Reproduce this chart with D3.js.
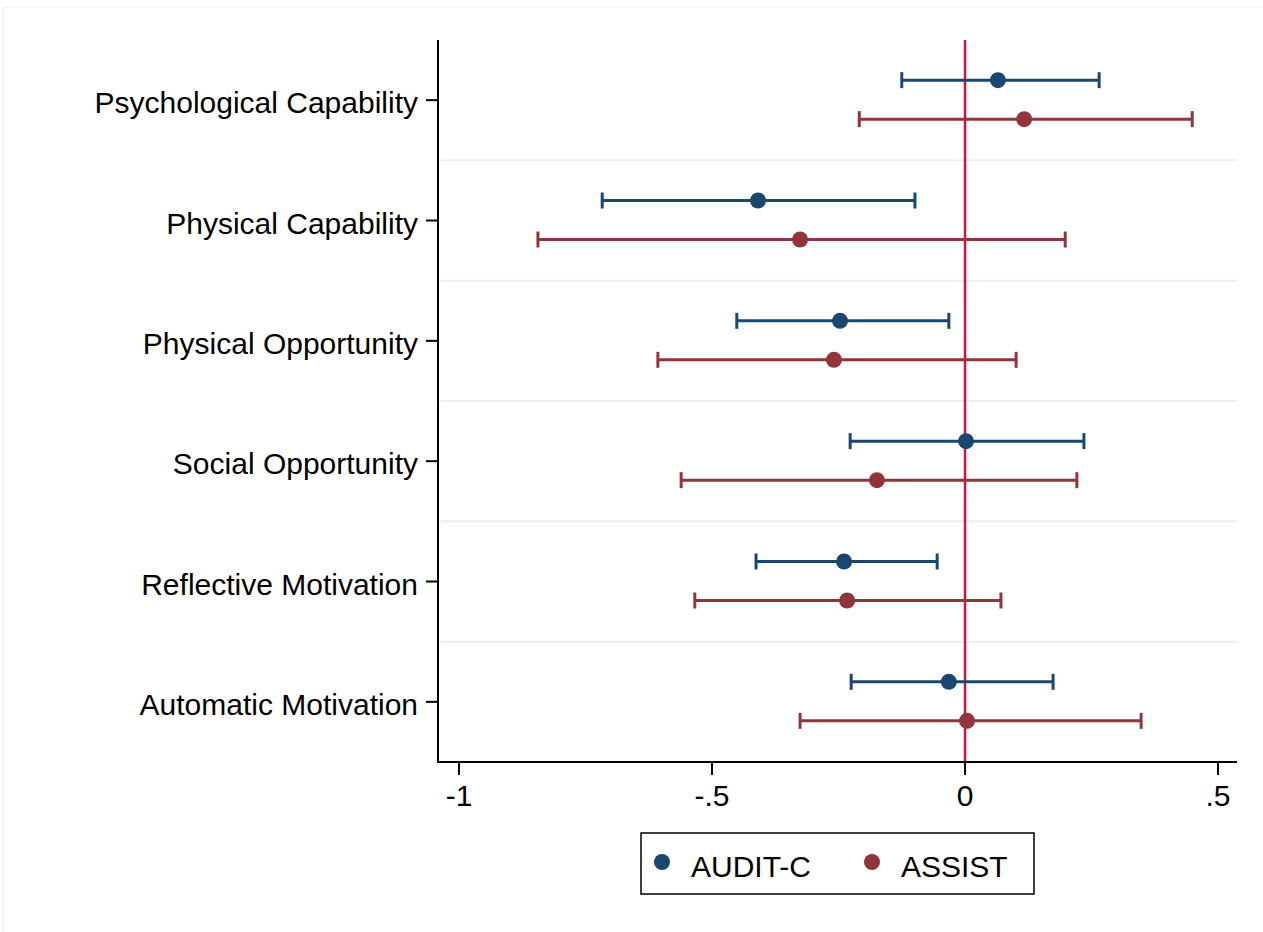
<!DOCTYPE html>
<head>
  <meta charset="utf-8">
  <script src="https://d3js.org/d3.v7.min.js"></script>
  <style>
    body {
      margin: 0;
      background: #fff;
      font-family: "Liberation Sans", Arial, sans-serif;
    }
    .ylab, .xlab, .legend text {
      fill: #000;
      font-size: 30px;
    }
    .sep {
      stroke: #e9eef0;
      stroke-width: 2;
    }
  </style>
</head>

<body>
  <div id="chart"></div>

  <script>
    var categories = ["Psychological Capability", "Physical Capability", "Physical Opportunity",
                      "Social Opportunity", "Reflective Motivation", "Automatic Motivation"];
    var seriesNames = ["AUDIT-C", "ASSIST"];
    var seriesColors = ["#1a476f", "#90353b"];

    // point estimates and confidence limits
    var auditEst = [0.065, -0.409, -0.247, 0.002, -0.239, -0.032];
    var auditLo  = [-0.125, -0.717, -0.451, -0.227, -0.413, -0.225];
    var auditHi  = [0.265, -0.099, -0.032, 0.235, -0.055, 0.174];

    var assistEst = [0.117, -0.326, -0.259, -0.174, -0.233, 0.004];
    var assistLo  = [-0.209, -0.844, -0.607, -0.561, -0.534, -0.326];
    var assistHi  = [0.449, 0.198, 0.101, 0.221, 0.071, 0.348];

    var xTicks = [-1, -0.5, 0, 0.5];
    var xTickLabels = ["-1", "-.5", "0", ".5"];

    var width = 1263, height = 932;
    var plotLeft = 438, plotRight = 1237, plotTop = 40, plotBottom = 762;

    var svg = d3.select("#chart").append("svg")
      .attr("width", width)
      .attr("height", height);

    // faint frame of the exported picture
    svg.append("rect")
      .attr("x", 3.5).attr("y", 7.5)
      .attr("width", width).attr("height", height)
      .attr("fill", "none")
      .attr("stroke", "#efefef");

    var x = d3.scaleLinear()
      .domain([-1.0415, 0.5375])
      .range([plotLeft, plotRight]);
    var y = d3.scaleBand()
      .domain(categories)
      .range([plotTop, plotBottom]);

    // separators between groups
    svg.selectAll("line.sep")
        .data(categories.slice(1))
      .enter().append("line")
        .attr("class", "sep")
        .attr("x1", plotLeft + 3).attr("x2", plotRight)
        .attr("y1", function(d) { return y(d); })
        .attr("y2", function(d) { return y(d); });

    // reference line at zero
    svg.append("line")
      .attr("x1", x(0)).attr("x2", x(0))
      .attr("y1", plotTop).attr("y2", plotBottom)
      .attr("stroke", "#c8173f")
      .attr("stroke-width", 2.5);

    var series = [
      {name: seriesNames[0], color: seriesColors[0], est: auditEst, lo: auditLo, hi: auditHi, off: -20},
      {name: seriesNames[1], color: seriesColors[1], est: assistEst, lo: assistLo, hi: assistHi, off: 19}
    ];

    series.forEach(function(s) {
      var rows = categories.map(function(c, i) {
        return {cat: c, est: s.est[i], lo: s.lo[i], hi: s.hi[i], cy: y(c) + y.bandwidth() / 2 + s.off};
      });
      var g = svg.append("g");
      g.selectAll("line.ci")
          .data(rows)
        .enter().append("line")
          .attr("x1", function(d) { return x(d.lo); })
          .attr("x2", function(d) { return x(d.hi); })
          .attr("y1", function(d) { return d.cy; })
          .attr("y2", function(d) { return d.cy; })
          .attr("stroke", s.color)
          .attr("stroke-width", 3);
      ["lo", "hi"].forEach(function(k) {
        g.selectAll("line.cap-" + k)
            .data(rows)
          .enter().append("line")
            .attr("x1", function(d) { return x(d[k]); })
            .attr("x2", function(d) { return x(d[k]); })
            .attr("y1", function(d) { return d.cy - 8; })
            .attr("y2", function(d) { return d.cy + 8; })
            .attr("stroke", s.color)
            .attr("stroke-width", 3);
      });
      g.selectAll("circle")
          .data(rows)
        .enter().append("circle")
          .attr("cx", function(d) { return x(d.est); })
          .attr("cy", function(d) { return d.cy; })
          .attr("r", 8)
          .attr("fill", s.color);
    });

    // y axis
    svg.append("line")
      .attr("x1", plotLeft).attr("x2", plotLeft)
      .attr("y1", plotTop).attr("y2", plotBottom + 1)
      .attr("stroke", "#000").attr("stroke-width", 2);
    svg.selectAll("line.ytick")
        .data(categories)
      .enter().append("line")
        .attr("x1", plotLeft - 12).attr("x2", plotLeft)
        .attr("y1", function(d) { return y(d) + y.bandwidth() / 2; })
        .attr("y2", function(d) { return y(d) + y.bandwidth() / 2; })
        .attr("stroke", "#000").attr("stroke-width", 2);
    svg.selectAll("text.ylab")
        .data(categories)
      .enter().append("text")
        .attr("class", "ylab")
        .attr("x", plotLeft - 20)
        .attr("y", function(d) { return y(d) + y.bandwidth() / 2 + 13; })
        .attr("text-anchor", "end")
        .text(function(d) { return d; });

    // x axis
    svg.append("line")
      .attr("x1", plotLeft - 1).attr("x2", plotRight)
      .attr("y1", plotBottom).attr("y2", plotBottom)
      .attr("stroke", "#000").attr("stroke-width", 2);
    svg.selectAll("line.xtick")
        .data(xTicks)
      .enter().append("line")
        .attr("x1", function(d) { return x(d); })
        .attr("x2", function(d) { return x(d); })
        .attr("y1", plotBottom).attr("y2", plotBottom + 13)
        .attr("stroke", "#000").attr("stroke-width", 2);
    svg.selectAll("text.xlab")
        .data(xTicks)
      .enter().append("text")
        .attr("class", "xlab")
        .attr("x", function(d) { return x(d); })
        .attr("y", 806)
        .attr("text-anchor", "middle")
        .text(function(d, i) { return xTickLabels[i]; });

    // legend
    var legend = svg.append("g").attr("class", "legend");
    legend.append("rect")
      .attr("x", 641).attr("y", 833)
      .attr("width", 393).attr("height", 61)
      .attr("fill", "#fff")
      .attr("stroke", "#000")
      .attr("stroke-width", 1.5);
    var legendX = [662, 872];
    series.forEach(function(s, i) {
      legend.append("circle")
        .attr("cx", legendX[i]).attr("cy", 862)
        .attr("r", 8)
        .attr("fill", s.color);
      legend.append("text")
        .attr("x", legendX[i] + 29)
        .attr("y", 877)
        .text(s.name);
    });
  </script>
</body>
